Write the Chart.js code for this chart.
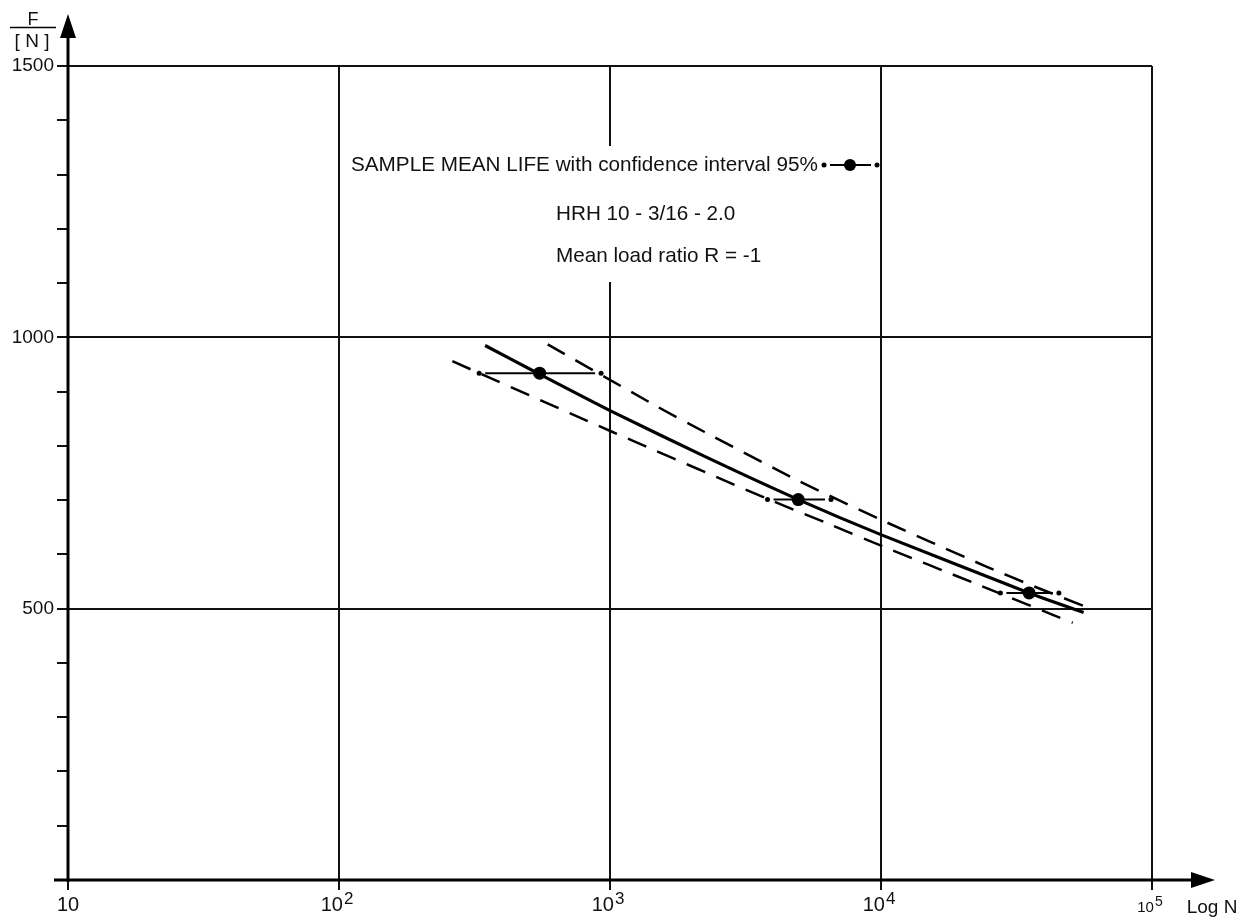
<!DOCTYPE html>
<html><head><meta charset="utf-8">
<script src="https://cdn.jsdelivr.net/npm/chart.js@4.4.1/dist/chart.umd.min.js"></script>
<style>html,body{margin:0;padding:0;background:#fff;} #wrap{width:1250px;height:917px;position:relative;}</style>
</head><body><div id="wrap"><canvas id="c"></canvas></div>
<script>
// ---- data ----
const xTickValues = [10, 100, 1000, 10000, 100000];
const xTickBase = ['10', '10', '10', '10', '10'];
const xTickExp = ['', '2', '3', '4', '5'];
const yLabelValues = [500, 1000, 1500];

const meanN = [550, 4950, 35200];
const meanF = [934, 701, 529];
const ciLowN = [329, 3814, 27580];
const ciHighN = [927, 6538, 45330];

const fitN = [346, 550, 1009, 2225, 4951, 10040, 35200, 55940];
const fitF = [985, 932, 864, 781, 701, 636, 529, 493];
const upperN = [589, 1498, 2225, 5036, 9874, 24110, 36720, 60850];
const upperF = [987, 872, 826, 734, 665, 579, 541, 498];
const lowerN = [262, 1017, 3782, 6648, 10130, 21610, 42380, 50980];
const lowerF = [956, 826, 703, 653, 615, 549, 490, 474];

const legendTitle = 'SAMPLE MEAN LIFE with confidence interval 95%';
const noteLines = ['HRH 10 - 3/16 - 2.0', 'Mean load ratio R = -1'];
const yTitleTop = 'F';
const yTitleBottom = '[ N ]';
const xTitle = 'Log N';

// ---- drawing ----
const FONT = '"Liberation Sans", Arial, Helvetica, sans-serif';
const INK = '#000';

const pts = (xs, ys) => xs.map((x, i) => ({x: x, y: ys[i]}));

function ciBar(ctx, xl, xh, y) {
  ctx.save();
  ctx.strokeStyle = INK; ctx.fillStyle = INK; ctx.lineWidth = 2;
  ctx.beginPath(); ctx.moveTo(xl + 6, y); ctx.lineTo(xh - 6, y); ctx.stroke();
  [xl, xh].forEach(x => { ctx.beginPath(); ctx.arc(x, y, 2.5, 0, Math.PI * 2); ctx.fill(); });
  ctx.restore();
}

const decor = {
  id: 'decor',
  beforeDatasetsDraw(chart) {
    const ctx = chart.ctx;
    ctx.save(); ctx.fillStyle = '#fff';
    ctx.fillRect(345, 146, 527, 136);
    ctx.restore();
  },
  afterDatasetsDraw(chart) {
    const ctx = chart.ctx, xs = chart.scales.x, ys = chart.scales.y;
    meanN.forEach((n, i) => {
      ciBar(ctx, xs.getPixelForValue(ciLowN[i]), xs.getPixelForValue(ciHighN[i]), ys.getPixelForValue(meanF[i]));
    });
  },
  afterDraw(chart) {
    const ctx = chart.ctx, xs = chart.scales.x, a = chart.chartArea;
    ctx.save();
    ctx.strokeStyle = INK; ctx.fillStyle = INK;
    ctx.lineWidth = 3;
    ctx.beginPath(); ctx.moveTo(a.left, a.bottom + 2); ctx.lineTo(a.left, 34); ctx.stroke();
    ctx.beginPath(); ctx.moveTo(54, a.bottom); ctx.lineTo(1195, a.bottom); ctx.stroke();
    ctx.beginPath(); ctx.moveTo(a.left, 14); ctx.lineTo(a.left - 8, 38); ctx.lineTo(a.left + 8, 38); ctx.closePath(); ctx.fill();
    ctx.beginPath(); ctx.moveTo(1215, a.bottom); ctx.lineTo(1191, a.bottom - 8); ctx.lineTo(1191, a.bottom + 8); ctx.closePath(); ctx.fill();

    ctx.fillStyle = '#111';
    ctx.textBaseline = 'alphabetic';
    xTickValues.forEach((v, i) => {
      const px = xs.getPixelForValue(v);
      const last = i === xTickValues.length - 1;
      const bf = last ? 15 : 20, sf = last ? 14 : 17;
      ctx.font = bf + 'px ' + FONT;
      const bw = ctx.measureText(xTickBase[i]).width;
      ctx.font = sf + 'px ' + FONT;
      const sw = xTickExp[i] ? ctx.measureText(xTickExp[i]).width + 1 : 0;
      const x0 = px - (bw + sw) / 2 - (xTickExp[i] ? 2 : 0);
      const base = last ? 912 : 911;
      ctx.textAlign = 'left';
      ctx.font = bf + 'px ' + FONT;
      ctx.fillText(xTickBase[i], x0, base);
      if (xTickExp[i]) {
        ctx.font = sf + 'px ' + FONT;
        ctx.fillText(xTickExp[i], x0 + bw + 1, base - (last ? 6 : 7));
      }
    });
    ctx.font = '19px ' + FONT; ctx.textAlign = 'center';
    ctx.fillText(xTitle, 1212, 913);
    ctx.font = '18px ' + FONT;
    ctx.fillText(yTitleTop, 33, 25);
    ctx.lineWidth = 1.5;
    ctx.beginPath(); ctx.moveTo(10, 27.5); ctx.lineTo(56, 27.5); ctx.stroke();
    ctx.font = '19px ' + FONT;
    ctx.fillText(yTitleBottom, 32, 47);

    ctx.font = '20.7px ' + FONT; ctx.textAlign = 'left';
    ctx.fillText(legendTitle, 351, 171);
    ctx.fillText(noteLines[0], 556, 220);
    ctx.fillText(noteLines[1], 556, 262);
    ciBar(ctx, 824, 877, 165);
    ctx.fillStyle = INK;
    ctx.beginPath(); ctx.arc(850, 165, 6, 0, Math.PI * 2); ctx.fill();
    ctx.restore();
  }
};

new Chart(document.getElementById('c'), {
  type: 'scatter',
  data: {
    datasets: [
      { label: 'upper 95%', data: pts(upperN, upperF), showLine: true, borderColor: INK, borderWidth: 2.5,
        borderDash: [20, 12], pointRadius: 0, tension: 0.2, fill: false },
      { label: 'lower 95%', data: pts(lowerN, lowerF), showLine: true, borderColor: INK, borderWidth: 2.5,
        borderDash: [20, 12], pointRadius: 0, tension: 0.2, fill: false },
      { label: 'mean line', data: pts(fitN, fitF), showLine: true, borderColor: INK, borderWidth: 3.2,
        pointRadius: 0, tension: 0.2, fill: false },
      { label: 'sample mean life', data: pts(meanN, meanF), showLine: false, pointRadius: 6.5,
        pointBackgroundColor: INK, pointBorderColor: INK, pointBorderWidth: 0 }
    ]
  },
  options: {
    responsive: true, maintainAspectRatio: false, animation: false,
    layout: { padding: { top: 66, right: 98, left: 0, bottom: 0 } },
    plugins: { legend: { display: false }, tooltip: { enabled: false } },
    scales: {
      x: {
        type: 'logarithmic', min: 10, max: 100000,
        afterBuildTicks: s => { s.ticks = xTickValues.map(v => ({ value: v })); },
        afterFit: s => { s.height = 37; },
        ticks: { display: false },
        border: { display: false },
        grid: { color: '#111', lineWidth: 2, drawTicks: true, tickLength: 10, tickWidth: 2, tickColor: '#111' }
      },
      y: {
        type: 'linear', min: 0, max: 1500,
        afterFit: s => { s.width = 68; },
        ticks: { stepSize: 100, autoSkip: false, padding: 3, color: '#111',
          font: { family: FONT, size: 19 },
          callback: v => yLabelValues.includes(v) ? String(v) : '' },
        border: { display: false },
        grid: { lineWidth: 2, tickLength: 11, tickWidth: 2, tickColor: '#111',
          color: c => (c.tick && yLabelValues.includes(c.tick.value)) ? '#111' : 'rgba(0,0,0,0)' }
      }
    }
  },
  plugins: [decor]
});
</script></body></html>
